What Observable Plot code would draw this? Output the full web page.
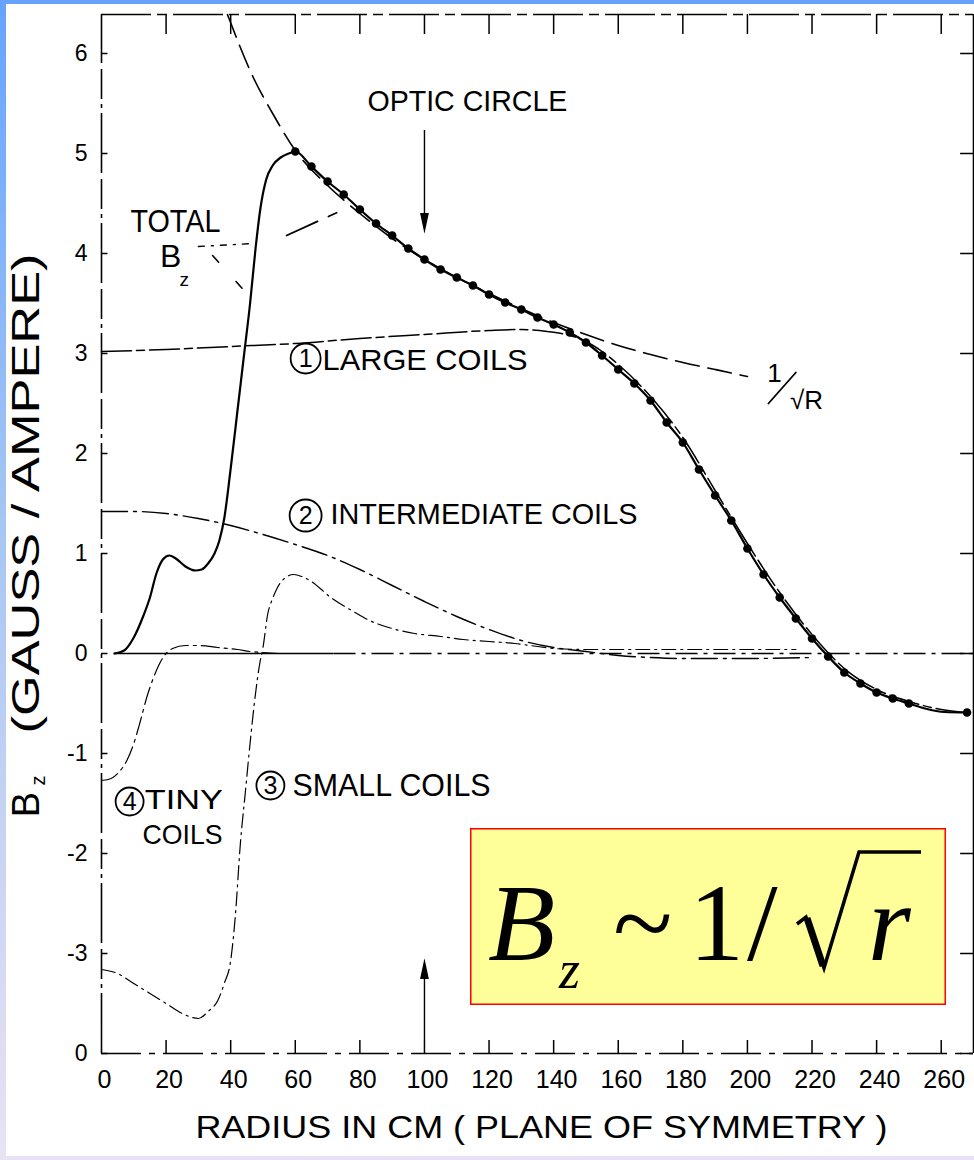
<!DOCTYPE html>
<html>
<head>
<meta charset="utf-8">
<script src="https://cdn.jsdelivr.net/npm/d3@7"></script>
<script src="https://cdn.jsdelivr.net/npm/@observablehq/plot@0.6"></script>
<style>
  html, body { margin: 0; padding: 0; }
  body {
    width: 974px; height: 1160px; position: relative; overflow: hidden;
    background: linear-gradient(to bottom, #66a3ff 0%, #a6c6f3 45%, #e9e2f4 100%);
  }
  #paper { position: absolute; left: 6px; top: 4px; width: 968px; height: 1152px; background: #fff; }
  #chart { position: absolute; left: 0; top: 0; }
  #formula { position: absolute; left: 470px; top: 828px; }
</style>
</head>
<body>
<div id="paper"></div>
<div id="chart"></div>
<div id="formula"></div>
<script>
// Axis ticks and their printed labels
const xTicks = [0, 20, 40, 60, 80, 100, 120, 140, 160, 180, 200, 220, 240, 260];
const xTickLabels = ["0", "20", "40", "60", "80", "100", "120", "140", "160", "180", "200", "220", "240", "260"];
const yTicks = [-4, -3, -2, -1, 0, 1, 2, 3, 4, 5, 6];
const yTickLabels = ["0", "-3", "-2", "-1", "0", "1", "2", "3", "4", "5", "6"];
const topTicks = [20, 40, 60, 80, 100, 120, 140, 160, 180, 200, 220, 240, 260];

// Total Bz: solid rise near the centre, then the measured points (every 5 cm)
const riseR = [4, 7, 10, 13, 15, 17, 19, 21, 23, 26, 29, 31, 33, 35, 36.5, 38, 40, 42, 44, 46, 47.7, 49.2, 51, 53, 55.5, 58];
const riseB = [0, 0.03, 0.16, 0.38, 0.56, 0.8, 0.94, 0.98, 0.95, 0.87, 0.83, 0.84, 0.9, 1.0, 1.13, 1.35, 1.85, 2.4, 2.95, 3.5, 4.05, 4.45, 4.74, 4.88, 4.96, 5.0];
const dotR = [60, 65, 70, 75, 80, 85, 90, 95, 100, 105, 110, 115, 120, 125, 130, 135, 140, 145, 150, 155, 160, 165, 170, 175, 180, 185, 190, 195, 200, 205, 210, 215, 220, 225, 230, 235, 240, 245, 250, 268];
const dotB = [5.02, 4.87, 4.72, 4.59, 4.44, 4.30, 4.18, 4.05, 3.94, 3.84, 3.76, 3.68, 3.59, 3.51, 3.44, 3.36, 3.29, 3.21, 3.11, 2.98, 2.84, 2.70, 2.53, 2.31, 2.11, 1.84, 1.58, 1.33, 1.05, 0.79, 0.56, 0.35, 0.15, -0.03, -0.19, -0.30, -0.39, -0.45, -0.50, -0.59];
const tailR = [255, 261];
const tailB = [-0.55, -0.585];

// Individual coil contributions
const largeR = [0, 20, 40, 60, 80, 100, 120, 130, 138, 145, 150, 155, 160, 170, 180, 190, 200, 210, 220, 230, 240, 250, 260, 268];
const largeB = [3.02, 3.04, 3.07, 3.10, 3.15, 3.19, 3.23, 3.24, 3.22, 3.18, 3.12, 3.02, 2.89, 2.57, 2.16, 1.63, 1.10, 0.61, 0.19, -0.15, -0.36, -0.48, -0.56, -0.59];
const interR = [0, 10, 20, 30, 40, 50, 60, 70, 80, 90, 100, 110, 120, 130, 140, 150, 160, 170, 180, 200, 220];
const interB = [1.42, 1.42, 1.40, 1.35, 1.28, 1.19, 1.09, 0.98, 0.84, 0.68, 0.52, 0.37, 0.24, 0.13, 0.06, 0.02, -0.02, -0.04, -0.05, -0.05, -0.04];
const smallR = [0, 5, 10, 15, 20, 25, 30, 33, 36, 38, 40, 41.5, 43, 44.5, 46, 47.5, 49, 50, 51.5, 53, 54.5, 57, 59.5, 62, 65, 71, 78, 83, 90, 97, 105, 112, 120, 128, 135, 140, 150, 170, 190, 215];
const smallB = [-3.16, -3.2, -3.3, -3.4, -3.5, -3.6, -3.65, -3.58, -3.47, -3.3, -3.07, -2.6, -1.9, -1.4, -0.9, -0.45, -0.1, 0.06, 0.4, 0.55, 0.66, 0.76, 0.79, 0.77, 0.72, 0.56, 0.42, 0.33, 0.25, 0.2, 0.17, 0.14, 0.12, 0.1, 0.07, 0.05, 0.04, 0.04, 0.04, 0.04];
const tinyR = [0, 3, 5, 8, 10, 12, 14, 16, 18, 20, 22, 26, 30, 36, 42, 46, 50, 55];
const tinyB = [-1.27, -1.25, -1.2, -1.06, -0.9, -0.68, -0.44, -0.25, -0.1, 0.0, 0.05, 0.08, 0.08, 0.06, 0.04, 0.02, 0.01, 0.0];

// Reference 1/sqrt(R) fall-off
const invR = [39, 47, 53, 60, 70, 80, 90, 100, 110, 120, 130, 140, 150, 160, 170, 180, 190, 200];
const invB = [6.39, 5.76, 5.40, 5.03, 4.68, 4.40, 4.15, 3.94, 3.76, 3.60, 3.45, 3.31, 3.19, 3.08, 2.99, 2.91, 2.84, 2.77];

// Leader strokes next to the "TOTAL Bz" label
const leaderDotR = [30, 47], leaderDotB = [4.07, 4.10];
const leaderDiagR = [34.4, 45], leaderDiagB = [3.98, 3.60];
const leaderRiseR = [57.3, 75], leaderRiseB = [4.18, 4.44];
// 1/sqrt(R) label slash
const slashR = [206.5, 215], slashB = [2.50, 2.81];

const pts = (rs, bs) => rs.map((r, i) => ({r, b: bs[i]}));
const total = pts([...riseR, ...dotR, ...tailR], [...riseB, ...dotB, ...tailB]).sort((a, b) => a.r - b.r);
const dots = pts(dotR, dotB);

// Annotation placement (data units)
const labels = [
  {text: "OPTIC CIRCLE", r: 113.3, b: 5.52, size: 30, width: 200},
  {text: "TOTAL", r: 22.9, b: 4.32, size: 32, width: 90},
  {text: "B", r: 21.4, b: 3.97, size: 32},
  {text: "z", r: 25.6, b: 3.74, size: 19},
  {text: "LARGE COILS", r: 100.2, b: 2.93, size: 30, width: 205},
  {text: "INTERMEDIATE COILS", r: 118.4, b: 1.39, size: 30, width: 307},
  {text: "SMALL COILS", r: 89.8, b: -1.33, size: 31, width: 198},
  {text: "TINY", r: 25.5, b: -1.47, size: 28, width: 78},
  {text: "COILS", r: 25.1, b: -1.82, size: 28, width: 80},
  {text: "1", r: 208.4, b: 2.80, size: 26},
  {text: "√R", r: 218.3, b: 2.53, size: 26},
  {text: "RADIUS IN CM ( PLANE OF SYMMETRY )", r: 136.2, b: -4.74, size: 32, width: 692},
  {text: "B", r: -23.1, b: -1.51, size: 38, rotate: -90},
  {text: "z", r: -19.6, b: -1.27, size: 20, rotate: -90},
  {text: "(GAUSS / AMPERE)", r: -23.1, b: 1.6, size: 38, width: 480, rotate: -90}
];
const circled = [
  {digit: "1", r: 63.2, b: 2.95, radius: 15},
  {digit: "2", r: 63.2, b: 1.38, radius: 16},
  {digit: "3", r: 52.3, b: -1.32, radius: 14},
  {digit: "4", r: 8.7, b: -1.48, radius: 14}
];
const arrows = [
  {r: 100, from: 5.23, to: 4.36, head: 4.31, rotate: 0, dash: "38,5,3,5,12,5,3,5"},
  {r: 100, from: -3.87, to: -3.22, head: -3.16, rotate: 180, dash: "12,5,3,5"}
];

// Narrow filled arrowhead, pointing down before rotation
const arrowHead = {
  draw(ctx, size) {
    const k = Math.sqrt(size / Math.PI);
    ctx.moveTo(0, k * 1.4);
    ctx.lineTo(-k * 0.55, -k * 1.2);
    ctx.lineTo(k * 0.55, -k * 1.2);
    ctx.closePath();
  }
};

const xLabelOf = new Map(xTicks.map((t, i) => [t, xTickLabels[i]]));
const yLabelOf = new Map(yTicks.map((t, i) => [t, yTickLabels[i]]));
const R0 = 0, R1 = 270, B0 = -4, B1 = 6.39;

const line = (data, o) => Plot.line(data, {x: "r", y: "b", curve: "monotone-x", stroke: "black", ...o});

const chart = Plot.plot({
  width: 974,
  height: 1160,
  marginLeft: 101,
  marginRight: 1,
  marginTop: 14,
  marginBottom: 107,
  x: {domain: [R0, R1], label: null},
  y: {domain: [B0, B1], label: null},
  r: {type: "identity"},
  style: {background: "transparent", fontFamily: "Liberation Sans, Arial, sans-serif", color: "black", overflow: "visible"},
  marks: [
    // frame
    Plot.ruleX([R0], {y1: B0, y2: B1, strokeWidth: 1.6, strokeDasharray: "60,5,4,5,30,6"}),
    Plot.ruleX([R1], {y1: B0, y2: B1, strokeWidth: 1.6}),
    Plot.ruleY([B1], {x1: R0, x2: R1, strokeWidth: 1.6, strokeDasharray: "50,6,10,6"}),
    Plot.ruleY([B0], {x1: R0, x2: R1, strokeWidth: 1.6, strokeDasharray: "40,8,6,8"}),
    // inward ticks
    Plot.ruleX(xTicks.slice(1), {y1: B0, y2: B0 + 0.13, strokeWidth: 1.5}),
    Plot.ruleX(topTicks, {y1: B1, y2: B1 - 0.2, strokeWidth: 1.5}),
    Plot.ruleY(yTicks, {x1: R0, x2: R0 + 2, strokeWidth: 1.5}),
    Plot.ruleY(yTicks, {x1: R1 - 4, x2: R1, strokeWidth: 1.5}),
    // tick labels
    Plot.axisX(xTicks, {tickSize: 0, tickPadding: 17, fontSize: 25, dx: 3, label: null, tickFormat: d => xLabelOf.get(d)}),
    Plot.axisY(yTicks, {tickSize: 0, tickPadding: 14, fontSize: 23, label: null, tickFormat: d => yLabelOf.get(d)}),
    // zero line
    Plot.ruleY([0], {x1: 4, x2: 72, strokeWidth: 1.5}),
    Plot.ruleY([0], {x1: 72, x2: R1, strokeWidth: 1.4, strokeDasharray: "22,6,4,6"}),
    // coil contributions
    line(pts(largeR, largeB), {strokeWidth: 1.5, strokeDasharray: "30,5,8,5"}),
    line(pts(interR, interB), {strokeWidth: 1.4, strokeDasharray: "26,6,3,6"}),
    line(pts(smallR, smallB), {strokeWidth: 1.2, strokeDasharray: "14,5,2,5"}),
    line(pts(tinyR, tinyB), {strokeWidth: 1.2, strokeDasharray: "18,5,3,5"}),
    // 1/sqrt(R) reference
    line(pts(invR, invB), {strokeWidth: 1.6, strokeDasharray: "24,9"}),
    // total field and measured points
    line(total, {strokeWidth: 2.2}),
    Plot.dot(dots, {x: "r", y: "b", r: 4.3, fill: "black"}),
    // leaders
    line(pts(leaderDotR, leaderDotB), {curve: "linear", strokeWidth: 1.4, strokeDasharray: "6,7,2,7"}),
    line(pts(leaderDiagR, leaderDiagB), {curve: "linear", strokeWidth: 1.6, strokeDasharray: "9,26"}),
    line(pts(leaderRiseR, leaderRiseB), {curve: "linear", strokeWidth: 1.8, strokeDasharray: "34,12,9,40"}),
    line(pts(slashR, slashB), {curve: "linear", strokeWidth: 1.8}),
    // arrows at the optic circle
    Plot.ruleX(arrows, {x: "r", y1: "from", y2: "to", strokeWidth: 1.4, strokeDasharray: d => d.dash}),
    Plot.dot(arrows, {x: "r", y: "head", r: 8, symbol: arrowHead, fill: "black", stroke: null, rotate: "rotate"}),
    // circled numbers
    Plot.dot(circled, {x: "r", y: "b", r: "radius", stroke: "black", strokeWidth: 1.8, fill: "none"}),
    Plot.text(circled, {x: "r", y: "b", text: "digit", fontSize: 25}),
    // text annotations
    ...labels.map(l => Plot.text([l], {x: "r", y: "b", text: "text", fontSize: l.size, rotate: l.rotate ?? 0, fill: "black"}))
  ]
});

// Stretch lettering to its drawn width
const widthOf = new Map(labels.filter(l => l.width).map(l => [l.text, l.width]));
d3.select(chart).selectAll("text").each(function () {
  const w = widthOf.get(this.textContent);
  if (w) {
    this.setAttribute("textLength", w);
    this.setAttribute("lengthAdjust", "spacingAndGlyphs");
  }
});
document.getElementById("chart").append(chart);

// Highlighted scaling law
const f = d3.select("#formula").append("svg").attr("width", 476).attr("height", 177);
f.append("rect").attr("x", 0.75).attr("y", 0.75).attr("width", 474.5).attr("height", 175.5)
  .attr("fill", "#ffff99").attr("stroke", "#ff0000").attr("stroke-width", 1.5);
const serif = "Liberation Serif, Times New Roman, serif";
const put = (t, x, y, size, italic) => f.append("text").attr("x", x).attr("y", y)
  .attr("font-family", serif).attr("font-size", size).attr("font-style", italic ? "italic" : "normal").text(t);
put("B", 18, 132, 110, true);
put("z", 89, 160, 54, true);
put("~", 143, 132, 110, false);
put("1", 219, 132, 110, false);
put("/", 277, 132, 110, false);
f.append("path").attr("d", "M327,96 L336,89 L354,140 L389,24 L451,24")
  .attr("fill", "none").attr("stroke", "black").attr("stroke-width", 3.5).attr("stroke-linejoin", "miter");
f.append("path").attr("d", "M337,90 L353,138").attr("stroke", "black").attr("stroke-width", 7);
put("r", 398, 132, 110, true);
</script>
</body>
</html>
